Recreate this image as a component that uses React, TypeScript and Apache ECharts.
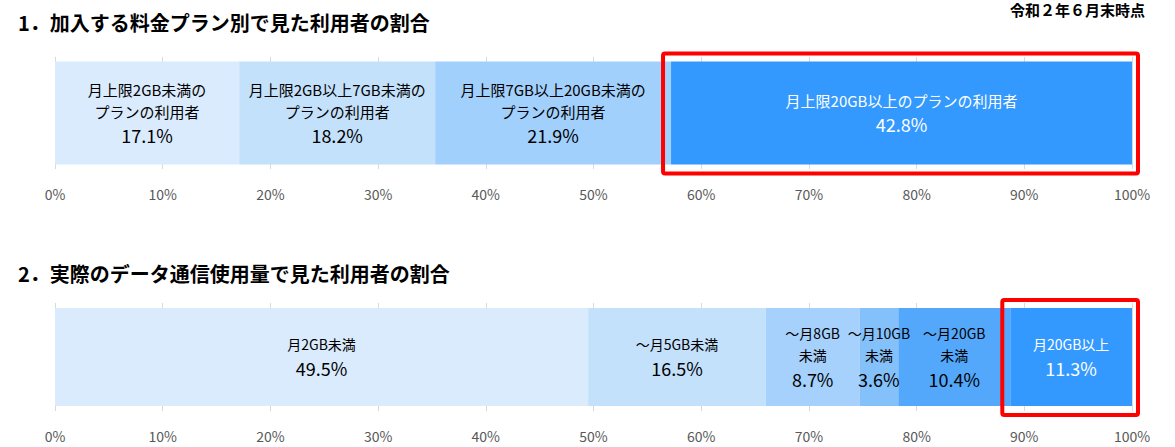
import { useEffect, useRef } from 'react';
import * as echarts from 'echarts';

// 1. 加入する料金プラン別
const planNames = [
  '月上限2GB未満の\nプランの利用者',
  '月上限2GB以上7GB未満の\nプランの利用者',
  '月上限7GB以上20GB未満の\nプランの利用者',
  '月上限20GB以上のプランの利用者',
];
const planShares = [17.1, 18.2, 21.9, 42.8];
const planColors = ['#DAEBFD', '#C4E1FC', '#A2D0FD', '#3399FF'];
const planTextColors = ['#000', '#000', '#000', '#fff'];

// 2. 実際のデータ通信使用量
const usageNames = [
  '月2GB未満',
  '～月5GB未満',
  '～月8GB\n未満',
  '～月10GB\n未満',
  '～月20GB\n未満',
  '月20GB以上',
];
const usageShares = [49.5, 16.5, 8.7, 3.6, 10.4, 11.3];
const usageColors = ['#DAEBFD', '#C4E1FC', '#A5D1FC', '#84C0FA', '#53A8FC', '#3399FF'];
const usageTextColors = ['#000', '#000', '#000', '#000', '#000', '#fff'];

const titles = ['1．加入する料金プラン別で見た利用者の割合', '2．実際のデータ通信使用量で見た利用者の割合'];
const note = '令和２年６月末時点';

const FONT = '"Noto Sans CJK JP", "Noto Sans", sans-serif';

const makeSeries = (
  names: string[],
  shares: number[],
  colors: string[],
  textColors: string[],
  axisIndex: number,
  barWidth: number,
  nameSize: number
) =>
  shares.map((v, i) => ({
    name: names[i],
    type: 'bar' as const,
    stack: 'total' + axisIndex,
    xAxisIndex: axisIndex,
    yAxisIndex: axisIndex,
    barWidth,
    data: [v],
    itemStyle: { color: colors[i] },
    label: {
      show: true,
      position: 'inside',
      formatter:
        names[i]
          .split('\n')
          .map((s) => `{n|${s}}`)
          .join('\n') + `\n{v|${v.toFixed(1)}%}`,
      rich: {
        n: { fontSize: nameSize, lineHeight: 22, color: textColors[i], fontFamily: FONT },
        v: { fontSize: 18, lineHeight: 26, color: textColors[i], fontFamily: FONT },
      },
    },
  }));

const valueAxis = (gridIndex: number) => ({
  type: 'value' as const,
  gridIndex,
  min: 0,
  max: 100,
  interval: 10,
  axisLine: { show: false },
  axisTick: { show: false },
  splitLine: { lineStyle: { color: '#D9D9D9', width: 1 } },
  axisLabel: {
    formatter: '{value}%',
    color: '#595959',
    fontSize: 14,
    fontFamily: FONT,
    margin: 18,
  },
});

const catAxis = (gridIndex: number) => ({
  type: 'category' as const,
  gridIndex,
  data: ['all'],
  show: false,
});

export default function App() {
  const chartRef = useRef<HTMLDivElement>(null);

  useEffect(() => {
    if (!chartRef.current) return;
    document.body.style.margin = '0';
    const chart = echarts.init(chartRef.current, undefined, { renderer: 'svg' });

    chart.setOption({
      animation: false,
      backgroundColor: '#fff',
      grid: [
        { left: 55, right: 43, top: 57, height: 112 },
        { left: 55, right: 43, top: 303, height: 108 },
      ],
      xAxis: [valueAxis(0), valueAxis(1)],
      yAxis: [catAxis(0), catAxis(1)],
      series: [
        ...makeSeries(planNames, planShares, planColors, planTextColors, 0, 103, 15),
        ...makeSeries(usageNames, usageShares, usageColors, usageTextColors, 1, 98, 14),
      ],
    });

    // 最後の区分を囲む赤枠（スケールから算出）
    const box = (axisIndex: number, shares: number[], barWidth: number) => {
      const start = shares.slice(0, -1).reduce((a, b) => a + b, 0);
      const x0 = chart.convertToPixel({ xAxisIndex: axisIndex }, start) as number;
      const x1 = chart.convertToPixel({ xAxisIndex: axisIndex }, 100) as number;
      const yc = chart.convertToPixel({ yAxisIndex: axisIndex }, 'all') as number;
      return {
        type: 'rect',
        shape: {
          x: x0 - 8,
          y: yc - barWidth / 2 - 8,
          width: x1 - x0 + 14,
          height: barWidth + 17,
          r: 2,
        },
        style: { fill: 'none', stroke: '#FF0000', lineWidth: 4 },
        z: 10,
      };
    };

    chart.setOption({
      graphic: [
        box(0, planShares, 103),
        box(1, usageShares, 98),
        {
          type: 'text',
          left: 18,
          top: 12,
          style: { text: titles[0], font: `bold 20px ${FONT}`, fill: '#000' },
        },
        {
          type: 'text',
          left: 18,
          top: 263,
          style: { text: titles[1], font: `bold 20px ${FONT}`, fill: '#000' },
        },
        {
          type: 'text',
          right: 30,
          top: 1,
          style: { text: note, font: `bold 15px ${FONT}`, fill: '#000', lineHeight: 17 },
        },
      ],
    });

    return () => {
      chart.dispose();
    };
  }, []);

  return <div ref={chartRef} style={{ width: 1175, height: 447 }} />;
}
